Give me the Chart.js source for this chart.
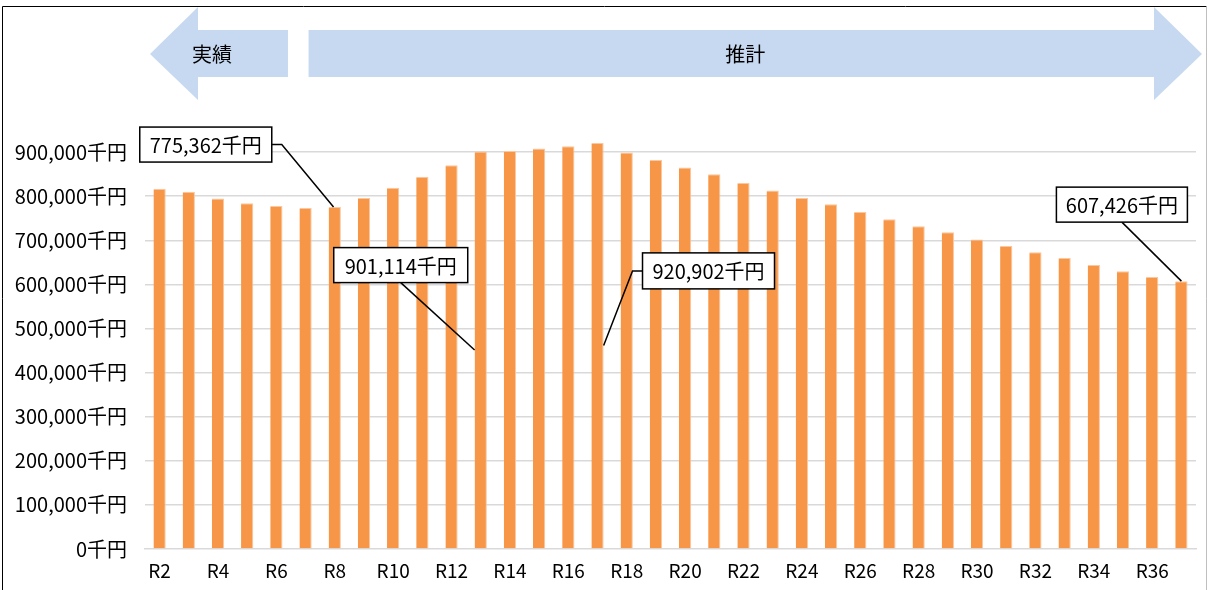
<!DOCTYPE html>
<html>
<head>
<meta charset="utf-8">
<script src="https://cdn.jsdelivr.net/npm/chart.js@4.4.1/dist/chart.umd.min.js"></script>
<style>
  html, body { margin: 0; padding: 0; background: #fff; }
  canvas { display: block; }
</style>
</head>
<body>
<canvas id="c" width="1209" height="590"></canvas>
<script>
// ---- data ----
const categories = ['R2','R3','R4','R5','R6','R7','R8','R9','R10','R11','R12','R13','R14','R15','R16','R17','R18','R19',
  'R20','R21','R22','R23','R24','R25','R26','R27','R28','R29','R30','R31','R32','R33','R34','R35','R36','R37'];
const values = [817000, 810000, 795000, 784000, 778000, 773000, 775362, 796000, 819000, 844000, 870000, 901114,
  902500, 908000, 913000, 920902, 899000, 882000, 865000, 850000, 830000, 813000, 796000, 782000,
  764000, 748000, 732000, 718000, 702000, 687000, 673000, 660000, 644000, 630000, 617000, 607426];
const yTicks = [0, 100000, 200000, 300000, 400000, 500000, 600000, 700000, 800000, 900000];
const unit = '千円';
const arrowLabels = ['実績', '推計'];
const calloutIndexes = [6, 11, 15, 35];

// ---- layout / style (not data) ----
const FONT = "'Noto Sans CJK JP', 'Noto Sans', sans-serif";
const calloutLayout = [
  // dx, dy: box top-left relative to bar top-center; from: leader start on box; ax, ay: end point on bar
  { dx: -195, dy: -80, w: 132, h: 35, from: 'right', elbow: 10, ax: -0.1, ay: 0 },
  { dx: -147, dy: 96,  w: 134, h: 35, from: 'bottom', ax: -0.5, ay: 0.5 },
  { dx: 45,   dy: 110, w: 132, h: 36, from: 'left', elbow: 10, ax: 0.5, ay: 0.5 },
  { dx: -125, dy: -94, w: 131, h: 35, from: 'bottom', ax: 0, ay: 0 }
];
const fmt = v => v.toLocaleString('en-US') + unit;

const decorPlugin = {
  id: 'decor',
  beforeDraw(chart) {
    const ctx = chart.ctx;
    const x = chart.scales.x;
    ctx.save();
    ctx.fillStyle = '#fff';
    ctx.fillRect(0, 0, chart.width, chart.height);
    // outer border
    ctx.strokeStyle = '#000';
    ctx.lineWidth = 1;
    ctx.beginPath();
    ctx.moveTo(2.5, 600); ctx.lineTo(2.5, 6.5); ctx.lineTo(1206.5, 6.5);
    ctx.stroke();
    ctx.strokeStyle = '#bfbfbf';
    ctx.beginPath();
    ctx.moveTo(1206.5, 6.5); ctx.lineTo(1206.5, 600);
    ctx.stroke();
    // arrows
    const bodyT = 30, bodyB = 77, headT = 7, headB = 100, mid = 54;
    ctx.fillStyle = '#C6D9F1';
    // left arrow (実績)
    const lTip = x.left + 5, lBase = lTip + 48, lEnd = (x.getPixelForValue(4) + x.getPixelForValue(5)) / 2 - 3;
    ctx.beginPath();
    ctx.moveTo(lTip, mid); ctx.lineTo(lBase, headT); ctx.lineTo(lBase, bodyT); ctx.lineTo(lEnd, bodyT);
    ctx.lineTo(lEnd, bodyB); ctx.lineTo(lBase, bodyB); ctx.lineTo(lBase, headB); ctx.closePath();
    ctx.fill();
    // right arrow (推計)
    const rStart = x.getPixelForValue(5) + 3, rTip = x.right + 6, rBase = rTip - 48;
    ctx.beginPath();
    ctx.moveTo(rStart, bodyT); ctx.lineTo(rBase, bodyT); ctx.lineTo(rBase, headT); ctx.lineTo(rTip, mid);
    ctx.lineTo(rBase, headB); ctx.lineTo(rBase, bodyB); ctx.lineTo(rStart, bodyB); ctx.closePath();
    ctx.fill();
    ctx.fillStyle = '#000';
    ctx.font = '20px ' + FONT;
    ctx.textAlign = 'center';
    ctx.textBaseline = 'middle';
    ctx.fillText(arrowLabels[0], lBase + 14, mid);
    ctx.fillText(arrowLabels[1], (rStart + rBase) / 2 + 14, mid);
    ctx.restore();
  },
  afterDatasetsDraw(chart) {
    const ctx = chart.ctx;
    const meta = chart.getDatasetMeta(0);
    ctx.save();
    calloutIndexes.forEach((idx, k) => {
      const L = calloutLayout[k];
      const bar = meta.data[idx];
      const bw = bar.width, cx = bar.x, top = bar.y, base = bar.base;
      const bx = cx + L.dx, by = top + L.dy;
      const ex = cx + L.ax * bw, ey = top + L.ay * (base - top);
      ctx.strokeStyle = '#000';
      ctx.lineWidth = 1.5;
      ctx.beginPath();
      if (L.from === 'right') {
        const sy = by + L.h / 2;
        ctx.moveTo(bx + L.w, sy); ctx.lineTo(bx + L.w + L.elbow, sy); ctx.lineTo(ex, ey);
      } else if (L.from === 'left') {
        const sy = by + L.h / 2;
        ctx.moveTo(bx, sy); ctx.lineTo(bx - L.elbow, sy); ctx.lineTo(ex, ey);
      } else {
        ctx.moveTo(bx + L.w / 2, by + L.h); ctx.lineTo(ex, ey);
      }
      ctx.stroke();
      ctx.fillStyle = '#fff';
      ctx.fillRect(bx, by, L.w, L.h);
      ctx.lineWidth = 1.5;
      ctx.strokeRect(bx, by, L.w, L.h);
      ctx.fillStyle = '#000';
      ctx.font = '20px ' + FONT;
      ctx.textAlign = 'center';
      ctx.textBaseline = 'middle';
      ctx.fillText(fmt(values[idx]), bx + L.w / 2, by + L.h / 2 + 1);
    });
    ctx.restore();
  }
};

new Chart(document.getElementById('c'), {
  type: 'bar',
  data: {
    labels: categories,
    datasets: [{
      data: values,
      backgroundColor: '#F79646',
      borderColor: '#FAC7A0',
      borderWidth: { left: 0, right: 1, top: 1, bottom: 0 },
      borderSkipped: 'bottom',
      barPercentage: 1.0,
      categoryPercentage: 0.42
    }]
  },
  options: {
    responsive: false,
    animation: false,
    devicePixelRatio: 1,
    layout: { padding: { top: 108, right: 13, bottom: 0, left: 0 } },
    plugins: { legend: { display: false }, tooltip: { enabled: false } },
    scales: {
      x: {
        afterFit(s) { s.height = 41; },
        grid: { display: false, drawTicks: false },
        border: { display: true, color: '#d9d9d9', width: 1.5 },
        ticks: {
          autoSkip: false, maxRotation: 0, padding: 10, color: '#000',
          font: { family: FONT, size: 19 },
          callback(v, i) { return i % 2 === 0 ? categories[i] : ''; }
        }
      },
      y: {
        min: 0, max: 1000000,
        afterFit(s) { s.width = 145; },
        afterBuildTicks(s) { s.ticks = yTicks.concat([1000000]).map(v => ({ value: v })); },
        grid: {
          drawTicks: false, lineWidth: 1.5,
          color: c => (c.tick && c.tick.value === 1000000) ? 'rgba(0,0,0,0)' : (c.tick && c.tick.value === 0 ? 'rgba(0,0,0,0)' : '#d9d9d9')
        },
        border: { display: false },
        ticks: {
          padding: 18, color: '#000',
          font: { family: FONT, size: 20 },
          callback(v) { return v === 1000000 ? '' : fmt(v); }
        }
      }
    }
  },
  plugins: [decorPlugin]
});
</script>
</body>
</html>
